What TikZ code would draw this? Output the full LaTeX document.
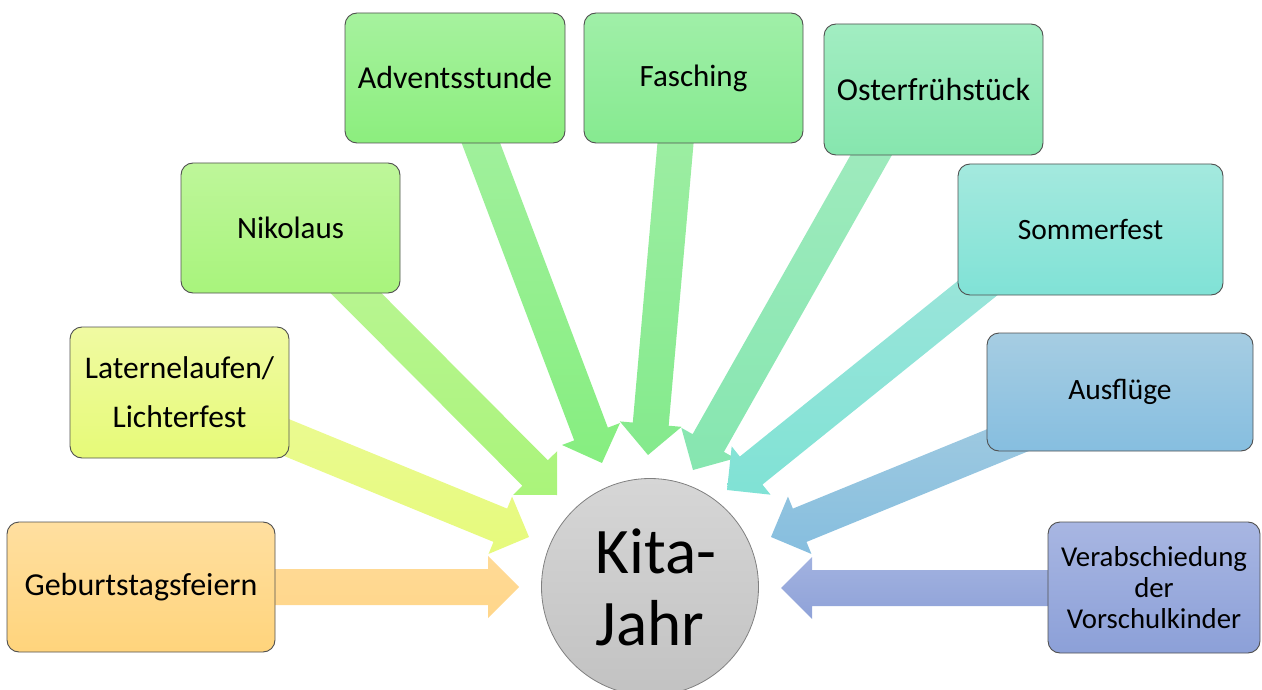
\documentclass[tikz,border=0pt]{standalone}
\usepackage{fontspec}
\setmainfont{Carlito}
\usetikzlibrary{calc}
\definecolor{gebA}{HTML}{FFDFA0}\definecolor{gebB}{HTML}{FFD47C}\definecolor{gebC}{HTML}{FFDA96}\definecolor{gebD}{HTML}{FFD68A}
\definecolor{latA}{HTML}{F0FAA2}\definecolor{latB}{HTML}{E6FA78}\definecolor{latC}{HTML}{EBFA92}\definecolor{latD}{HTML}{E6FA7C}
\definecolor{nikA}{HTML}{BEF69A}\definecolor{nikB}{HTML}{A8F47C}\definecolor{nikC}{HTML}{BAF594}\definecolor{nikD}{HTML}{AAF47A}
\definecolor{advA}{HTML}{A6F29E}\definecolor{advB}{HTML}{8CEE7E}\definecolor{advC}{HTML}{A2F09E}\definecolor{advD}{HTML}{86EE80}
\definecolor{fasA}{HTML}{A0EFA8}\definecolor{fasB}{HTML}{86EA90}\definecolor{fasC}{HTML}{9EEEA4}\definecolor{fasD}{HTML}{84EA8C}
\definecolor{ostA}{HTML}{A2EDC2}\definecolor{ostB}{HTML}{86E6AE}\definecolor{ostC}{HTML}{A0EBBE}\definecolor{ostD}{HTML}{86E6B0}
\definecolor{somA}{HTML}{A4E9DE}\definecolor{somB}{HTML}{80E2D6}\definecolor{somC}{HTML}{9CE5DA}\definecolor{somD}{HTML}{80E2D5}
\definecolor{ausA}{HTML}{A6CDE2}\definecolor{ausB}{HTML}{86BEE0}\definecolor{ausC}{HTML}{A0CAE0}\definecolor{ausD}{HTML}{86BEDF}
\definecolor{verA}{HTML}{A8B6E2}\definecolor{verB}{HTML}{8CA0D8}\definecolor{verC}{HTML}{A2B2E0}\definecolor{verD}{HTML}{8FA2D8}
\definecolor{kitaA}{HTML}{D6D6D6}\definecolor{kitaB}{HTML}{C2C2C2}
\definecolor{boxline}{HTML}{505050}
\newcommand\kitaarrow[4]{%
  \coordinate (#2base) at ($(#2)!31pt!(#1)$);
  \shade[top color=#3,bottom color=#4]
    ($(#1)!18pt!90:(#2)$) -- ($(#2base)!18pt!90:(#2)$) -- ($(#2base)!31pt!90:(#2)$)
    -- (#2) -- ($(#2base)!31pt!-90:(#2)$) -- ($(#2base)!18pt!-90:(#2)$)
    -- ($(#1)!18pt!-90:(#2)$) -- cycle;}
\tikzset{
  evbox/.style={draw=boxline, line width=0.9pt, rounded corners=12pt, align=center,
    inner sep=2pt, font=\fontsize{32}{38}\selectfont},
}
\begin{document}
\begin{tikzpicture}[x=1pt,y=-1pt]
\useasboundingbox (0,0) rectangle (1262,690);
% tails and tips
\coordinate (t1) at (240,587);  \coordinate (p1) at (519,587);
\coordinate (t2) at (251,423);  \coordinate (p2) at (529,537);
\coordinate (t3) at (330,267);  \coordinate (p3) at (557,495);
\coordinate (t4) at (471,117);  \coordinate (p4) at (602,463);
\coordinate (t5) at (678,115);  \coordinate (p5) at (648,455);
\coordinate (t6) at (886,129);  \coordinate (p6) at (693,470);
\coordinate (t7) at (1000,270); \coordinate (p7) at (727,490);
\coordinate (t8) at (1040,427); \coordinate (p8) at (771,537);
\coordinate (t9) at (1100,588); \coordinate (p9) at (781,588);
\kitaarrow{t1}{p1}{gebC}{gebD}
\kitaarrow{t2}{p2}{latC}{latD}
\kitaarrow{t3}{p3}{nikC}{nikD}
\kitaarrow{t4}{p4}{advC}{advD}
\kitaarrow{t5}{p5}{fasC}{fasD}
\kitaarrow{t6}{p6}{ostC}{ostD}
\kitaarrow{t7}{p7}{somC}{somD}
\kitaarrow{t8}{p8}{ausC}{ausD}
\kitaarrow{t9}{p9}{verC}{verD}
% boxes
\node[evbox, top color=gebA, bottom color=gebB, minimum width=268pt, minimum height=130pt] (geb) at (141,587) {Geburtstagsfeiern};
\node[evbox, top color=latA, bottom color=latB, minimum width=219pt, minimum height=131pt, font=\fontsize{31.5}{49}\selectfont] (lat) at (179.5,392.5) {Laternelaufen/\\Lichterfest};
\node[evbox, top color=nikA, bottom color=nikB, minimum width=219pt, minimum height=130pt, font=\fontsize{31}{38}\selectfont] (nik) at (290.5,228) {Nikolaus};
\node[evbox, top color=advA, bottom color=advB, minimum width=220pt, minimum height=130pt] (adv) at (455,78) {Adventsstunde};
\node[evbox, top color=fasA, bottom color=fasB, minimum width=219pt, minimum height=130pt, font=\fontsize{31}{38}\selectfont] (fas) at (693.5,78) {Fasching};
\node[evbox, top color=ostA, bottom color=ostB, minimum width=219pt, minimum height=131pt] (ost) at (933.5,89.5) {Osterfrühstück};
\node[evbox, top color=somA, bottom color=somB, minimum width=265pt, minimum height=131pt, font=\fontsize{29.5}{35}\selectfont] (som) at (1090.5,229.5) {Sommerfest};
\node[evbox, top color=ausA, bottom color=ausB, minimum width=266pt, minimum height=118pt, font=\fontsize{29.5}{35}\selectfont] (aus) at (1120,392) {Ausflüge};
\node[evbox, top color=verA, bottom color=verB, minimum width=212pt, minimum height=131pt, font=\fontsize{28.8}{31}\selectfont] (ver) at (1154,587.5) {Verabschiedung\\der\\Vorschulkinder};
% centre
\node[circle, draw=gray, line width=0.8pt, top color=kitaA, bottom color=kitaB, minimum size=217pt, inner sep=0pt,
  align=center, font=\fontsize{65}{72}\selectfont] (kita) at (650,587) {\hspace*{12pt}Kita-\\Jahr};
\end{tikzpicture}
\end{document}
